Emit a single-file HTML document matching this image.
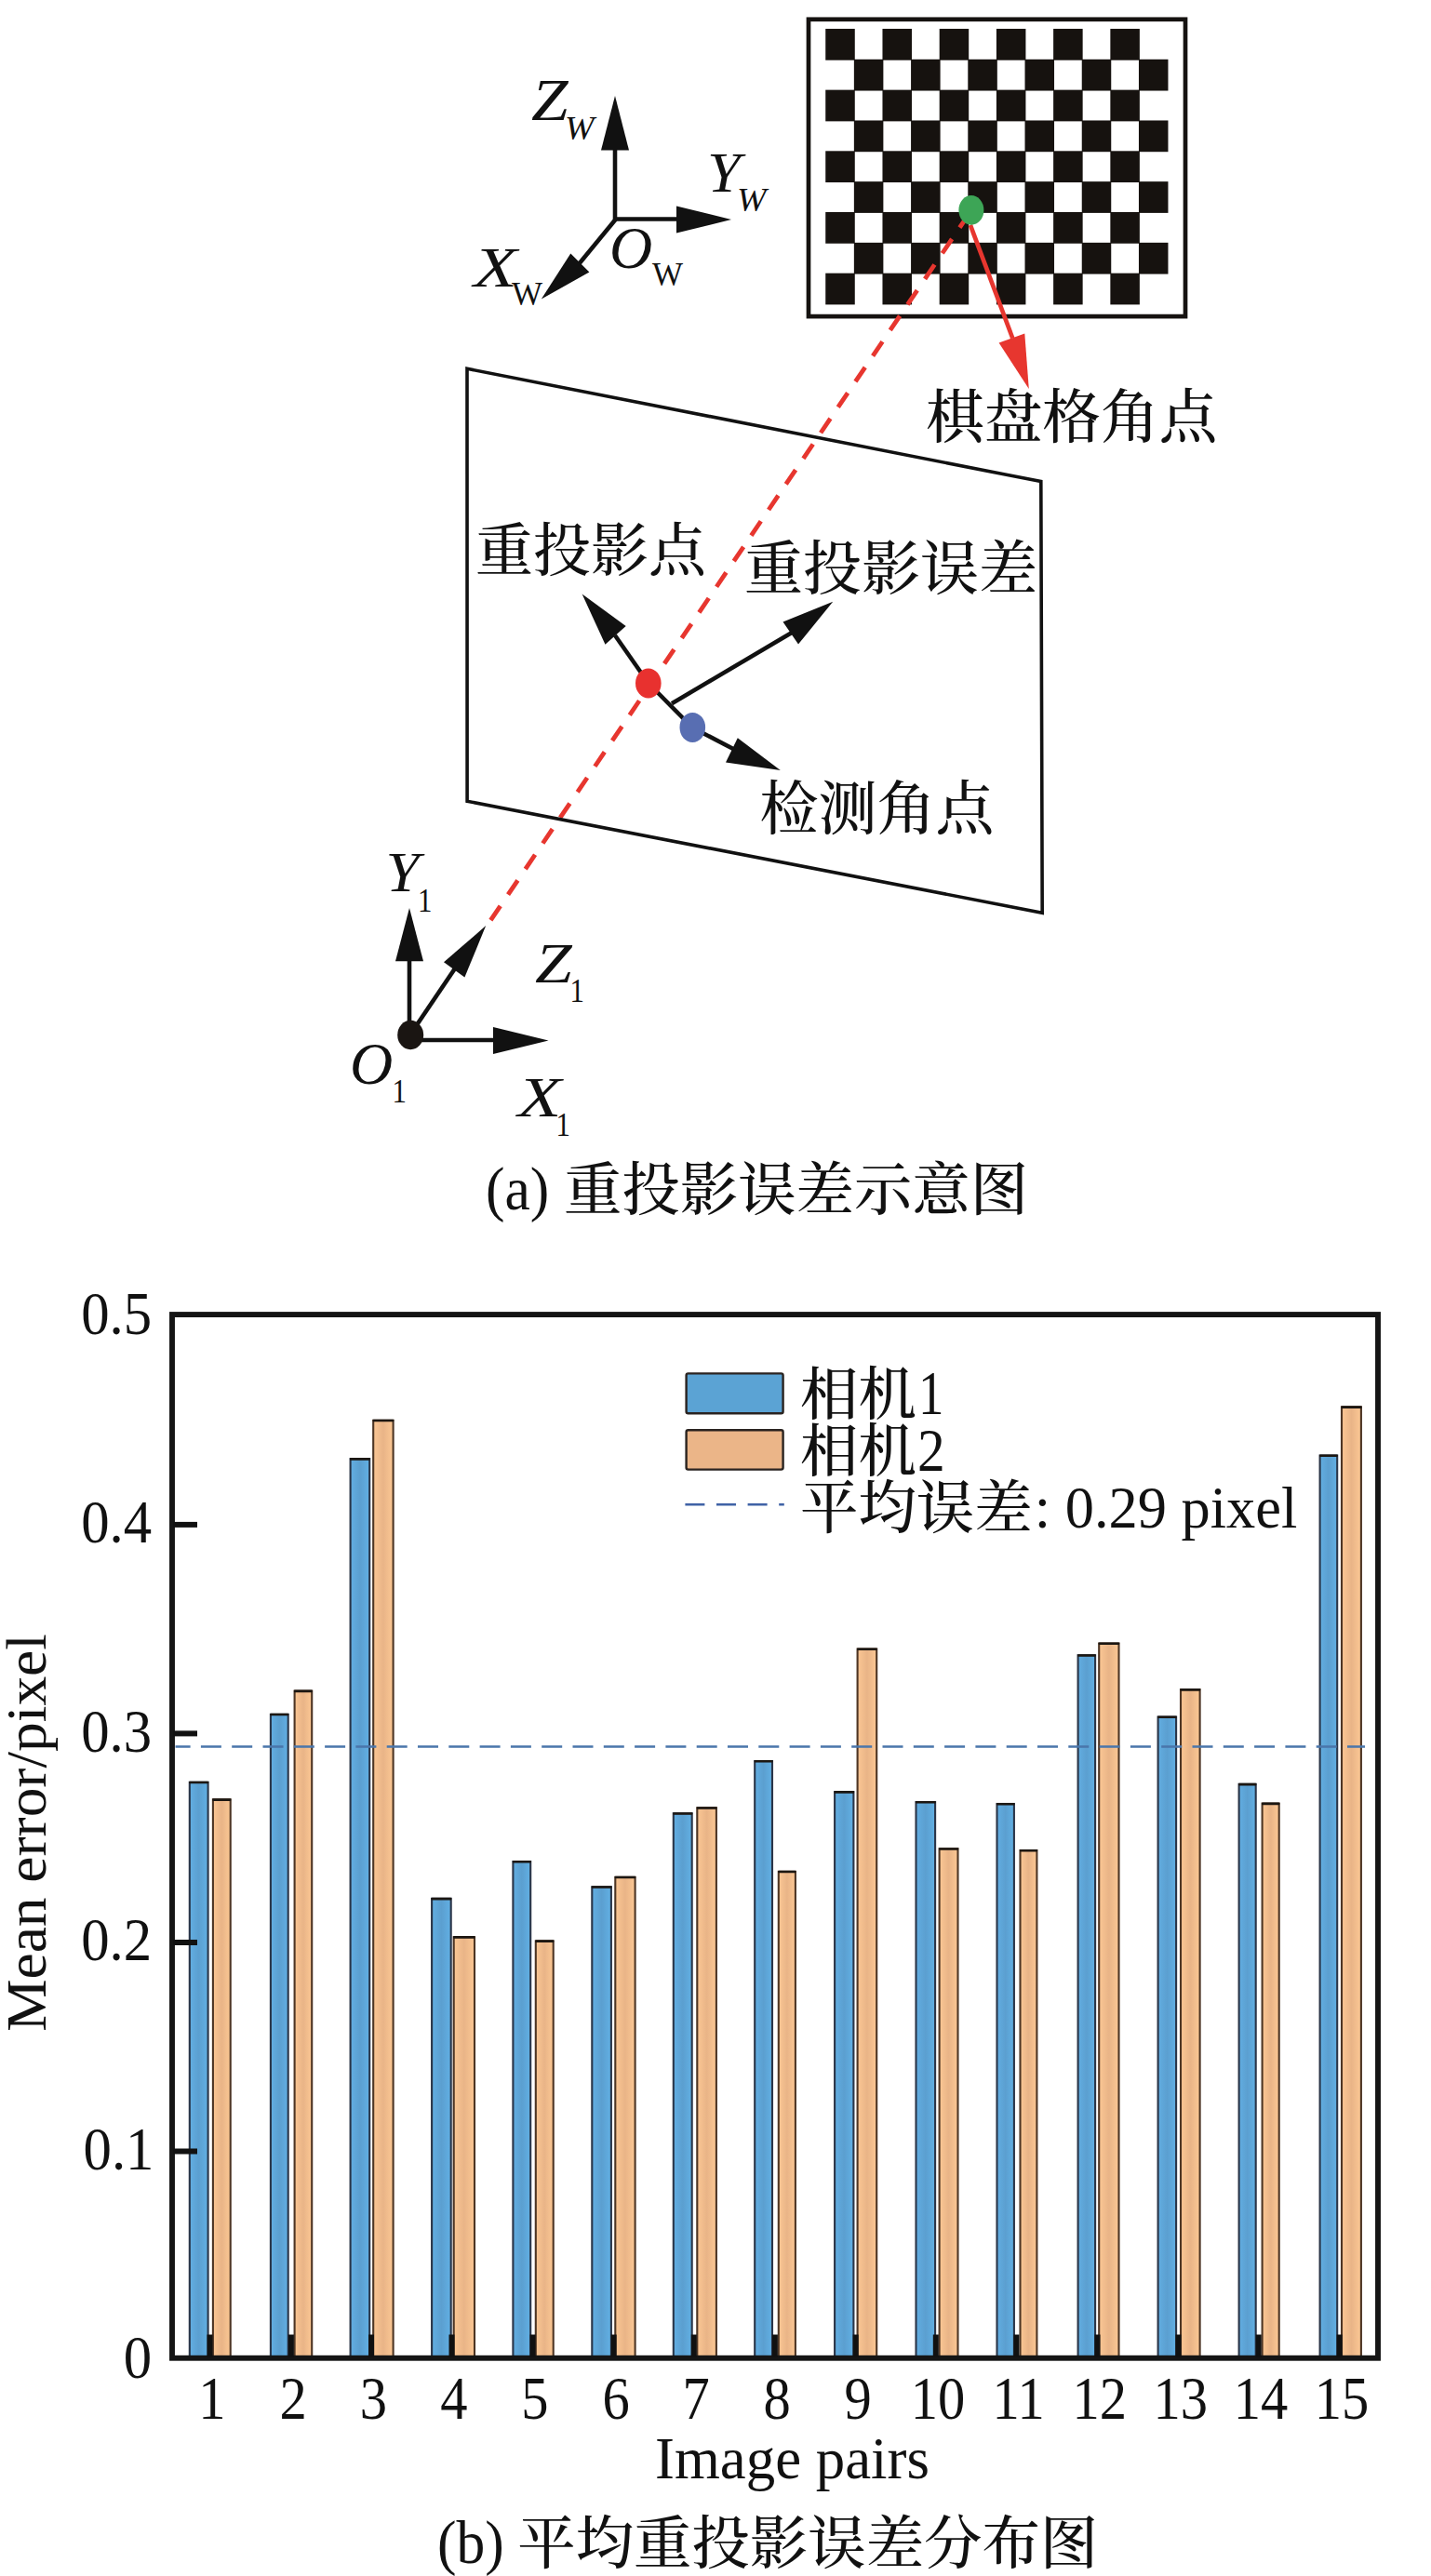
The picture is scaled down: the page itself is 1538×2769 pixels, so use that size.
<!DOCTYPE html>
<html lang="zh"><head><meta charset="utf-8"><title>重投影误差</title>
<style>html,body{margin:0;padding:0;background:#fff}svg{display:block}text{font-family:"Liberation Serif","Noto Serif CJK SC",serif;fill:#111}.cj{font-family:"Liberation Serif","Noto Serif CJK SC",serif;font-weight:500}.it{font-style:italic}</style></head><body>
<svg width="1538" height="2769" viewBox="0 0 1538 2769">
<defs>
<linearGradient id="gb" x1="0" x2="1" y1="0" y2="0"><stop offset="0" stop-color="#62aee2"/><stop offset="0.5" stop-color="#5b9fd0"/><stop offset="1" stop-color="#62b0e4"/></linearGradient>
<linearGradient id="go" x1="0" x2="1" y1="0" y2="0"><stop offset="0" stop-color="#fbc794"/><stop offset="0.5" stop-color="#e9b487"/><stop offset="1" stop-color="#fcc894"/></linearGradient>
</defs>
<rect width="1538" height="2769" fill="#fff"/>
<g id="board">
<rect x="869" y="20.8" width="405" height="319.3" fill="#fff" stroke="#151210" stroke-width="4.7"/>
<rect x="887.25" y="30.95" width="31.51" height="33.74" fill="#16120f"/>
<rect x="948.47" y="30.95" width="31.51" height="33.74" fill="#16120f"/>
<rect x="1009.69" y="30.95" width="31.51" height="33.74" fill="#16120f"/>
<rect x="1070.91" y="30.95" width="31.51" height="33.74" fill="#16120f"/>
<rect x="1132.13" y="30.95" width="31.51" height="33.74" fill="#16120f"/>
<rect x="1193.35" y="30.95" width="31.51" height="33.74" fill="#16120f"/>
<rect x="917.86" y="63.79" width="31.51" height="33.74" fill="#16120f"/>
<rect x="979.08" y="63.79" width="31.51" height="33.74" fill="#16120f"/>
<rect x="1040.30" y="63.79" width="31.51" height="33.74" fill="#16120f"/>
<rect x="1101.52" y="63.79" width="31.51" height="33.74" fill="#16120f"/>
<rect x="1162.74" y="63.79" width="31.51" height="33.74" fill="#16120f"/>
<rect x="1223.96" y="63.79" width="31.51" height="33.74" fill="#16120f"/>
<rect x="887.25" y="96.63" width="31.51" height="33.74" fill="#16120f"/>
<rect x="948.47" y="96.63" width="31.51" height="33.74" fill="#16120f"/>
<rect x="1009.69" y="96.63" width="31.51" height="33.74" fill="#16120f"/>
<rect x="1070.91" y="96.63" width="31.51" height="33.74" fill="#16120f"/>
<rect x="1132.13" y="96.63" width="31.51" height="33.74" fill="#16120f"/>
<rect x="1193.35" y="96.63" width="31.51" height="33.74" fill="#16120f"/>
<rect x="917.86" y="129.47" width="31.51" height="33.74" fill="#16120f"/>
<rect x="979.08" y="129.47" width="31.51" height="33.74" fill="#16120f"/>
<rect x="1040.30" y="129.47" width="31.51" height="33.74" fill="#16120f"/>
<rect x="1101.52" y="129.47" width="31.51" height="33.74" fill="#16120f"/>
<rect x="1162.74" y="129.47" width="31.51" height="33.74" fill="#16120f"/>
<rect x="1223.96" y="129.47" width="31.51" height="33.74" fill="#16120f"/>
<rect x="887.25" y="162.31" width="31.51" height="33.74" fill="#16120f"/>
<rect x="948.47" y="162.31" width="31.51" height="33.74" fill="#16120f"/>
<rect x="1009.69" y="162.31" width="31.51" height="33.74" fill="#16120f"/>
<rect x="1070.91" y="162.31" width="31.51" height="33.74" fill="#16120f"/>
<rect x="1132.13" y="162.31" width="31.51" height="33.74" fill="#16120f"/>
<rect x="1193.35" y="162.31" width="31.51" height="33.74" fill="#16120f"/>
<rect x="917.86" y="195.15" width="31.51" height="33.74" fill="#16120f"/>
<rect x="979.08" y="195.15" width="31.51" height="33.74" fill="#16120f"/>
<rect x="1040.30" y="195.15" width="31.51" height="33.74" fill="#16120f"/>
<rect x="1101.52" y="195.15" width="31.51" height="33.74" fill="#16120f"/>
<rect x="1162.74" y="195.15" width="31.51" height="33.74" fill="#16120f"/>
<rect x="1223.96" y="195.15" width="31.51" height="33.74" fill="#16120f"/>
<rect x="887.25" y="227.99" width="31.51" height="33.74" fill="#16120f"/>
<rect x="948.47" y="227.99" width="31.51" height="33.74" fill="#16120f"/>
<rect x="1009.69" y="227.99" width="31.51" height="33.74" fill="#16120f"/>
<rect x="1070.91" y="227.99" width="31.51" height="33.74" fill="#16120f"/>
<rect x="1132.13" y="227.99" width="31.51" height="33.74" fill="#16120f"/>
<rect x="1193.35" y="227.99" width="31.51" height="33.74" fill="#16120f"/>
<rect x="917.86" y="260.83" width="31.51" height="33.74" fill="#16120f"/>
<rect x="979.08" y="260.83" width="31.51" height="33.74" fill="#16120f"/>
<rect x="1040.30" y="260.83" width="31.51" height="33.74" fill="#16120f"/>
<rect x="1101.52" y="260.83" width="31.51" height="33.74" fill="#16120f"/>
<rect x="1162.74" y="260.83" width="31.51" height="33.74" fill="#16120f"/>
<rect x="1223.96" y="260.83" width="31.51" height="33.74" fill="#16120f"/>
<rect x="887.25" y="293.67" width="31.51" height="33.74" fill="#16120f"/>
<rect x="948.47" y="293.67" width="31.51" height="33.74" fill="#16120f"/>
<rect x="1009.69" y="293.67" width="31.51" height="33.74" fill="#16120f"/>
<rect x="1070.91" y="293.67" width="31.51" height="33.74" fill="#16120f"/>
<rect x="1132.13" y="293.67" width="31.51" height="33.74" fill="#16120f"/>
<rect x="1193.35" y="293.67" width="31.51" height="33.74" fill="#16120f"/>
</g>
<line x1="1040" y1="232" x2="526.5" y2="990.5" stroke="#e7362f" stroke-width="4.8" stroke-dasharray="18.5 14.8" stroke-dashoffset="3.2"/>
<line x1="1042.9" y1="241.9" x2="1088.3" y2="363.5" stroke="#e7362f" stroke-width="4.7"/>
<polygon points="1105.8,418 1073.6,368.4 1101.3,358.6" fill="#e7362f"/>
<ellipse cx="1043.9" cy="225.9" rx="13.5" ry="15.8" fill="#3da556"/>
<g stroke="#111" stroke-width="4.6" fill="none" stroke-linecap="butt">
<line x1="661" y1="237" x2="661" y2="158"/>
<line x1="659" y1="235.5" x2="730" y2="235.5"/>
<line x1="661.5" y1="236" x2="622" y2="284"/>
</g>
<polygon points="661,103 646,161.5 676,161.5" fill="#111"/>
<polygon points="786,236 727,221.4 727,250.6" fill="#111"/>
<polygon points="581.8,321.5 613.3,272.5 633.4,292.6" fill="#111"/>
<text class="it" transform="translate(571,129) scale(1.13,1)" font-size="63">Z</text>
<text class="it" transform="translate(607,150) scale(1.08,1)" font-size="35">W</text>
<text class="it" transform="translate(760,206) scale(1.04,1)" font-size="62">Y</text>
<text class="it" transform="translate(792,226.5) scale(1.08,1)" font-size="35">W</text>
<text class="it" transform="translate(655,287.5) scale(1.0,1)" font-size="64">O</text>
<text transform="translate(701,306.5) scale(1.0,1)" font-size="35">W</text>
<text class="it" transform="translate(509,307.7) scale(1.24,1)" font-size="62">X</text>
<text transform="translate(550,328) scale(1.0,1)" font-size="35">W</text>
<polygon points="502,396.3 1118.8,517.6 1120.2,981.2 502.1,861.2" fill="none" stroke="#111" stroke-width="3.6" stroke-linejoin="miter"/>
<g stroke="#111" stroke-width="4.5" fill="none">
<line x1="697" y1="734.5" x2="661" y2="683"/>
<line x1="697" y1="734.5" x2="744" y2="782"/>
<line x1="744" y1="782" x2="790" y2="806"/>
<line x1="722" y1="756.3" x2="851" y2="680"/>
</g>
<polygon points="625.6,638.6 650.5,692.8 672.7,673" fill="#111"/>
<polygon points="838.8,828 780,819.5 792.8,793.3" fill="#111"/>
<polygon points="895.2,646.8 841.5,668.6 858,692.4" fill="#111"/>
<ellipse cx="696.8" cy="734.4" rx="13.8" ry="16" fill="#e8312f"/>
<ellipse cx="744.3" cy="781.9" rx="13.8" ry="16" fill="#586eb2"/>
<text class="cj" x="995" y="469.8" font-size="62.7">棋盘格角点</text>
<text class="cj" x="511" y="613.5" font-size="62">重投影点</text>
<text class="cj" x="800" y="633" font-size="63">重投影误差</text>
<text class="cj" x="816.5" y="891" font-size="63">检测角点</text>
<g stroke="#111" stroke-width="4.6" fill="none">
<line x1="440" y1="1112" x2="440" y2="1030"/>
<line x1="441" y1="1118" x2="533" y2="1118"/>
<line x1="441" y1="1112" x2="489" y2="1041"/>
</g>
<polygon points="440,976 425,1033.3 455,1033.3" fill="#111"/>
<polygon points="589.5,1118.5 530,1104 530,1133" fill="#111"/>
<polygon points="522.2,995.1 477,1034.2 499.4,1050.6" fill="#111"/>
<ellipse cx="441.2" cy="1112.5" rx="14" ry="15.7" fill="#1a1512"/>
<text class="it" transform="translate(414.5,958.2) scale(1.05,1)" font-size="62">Y</text>
<text transform="translate(449,979.5) scale(0.88,1)" font-size="35">1</text>
<text class="it" transform="translate(575,1055.5) scale(1.15,1)" font-size="62">Z</text>
<text transform="translate(612.5,1076.5) scale(0.88,1)" font-size="35">1</text>
<text class="it" transform="translate(376,1165) scale(1.0,1)" font-size="64">O</text>
<text transform="translate(421.5,1185.3) scale(0.88,1)" font-size="35">1</text>
<text class="it" transform="translate(556.6,1199.7) scale(1.24,1)" font-size="62">X</text>
<text transform="translate(597.5,1220.5) scale(0.88,1)" font-size="35">1</text>
<text transform="translate(522,1299.6) scale(0.94,1)" font-size="65.5" text-anchor="start">(a)</text>
<text class="cj" x="606" y="1301.2" font-size="62.4">重投影误差示意图</text>
<g id="bars" stroke-width="2.1">
<rect x="203.8" y="1915.8" width="19.8" height="618.3" fill="url(#gb)" stroke="#2a3548"/>
<rect x="228.9" y="1934.3" width="18.8" height="599.7" fill="url(#go)" stroke="#4d3524"/>
<rect x="290.9" y="1842.8" width="18.8" height="691.3" fill="url(#gb)" stroke="#2a3548"/>
<rect x="316.6" y="1817.6" width="18.6" height="716.4" fill="url(#go)" stroke="#4d3524"/>
<rect x="376.6" y="1568.1" width="20.6" height="965.9" fill="url(#gb)" stroke="#2a3548"/>
<rect x="401.2" y="1526.8" width="21.4" height="1007.3" fill="url(#go)" stroke="#4d3524"/>
<rect x="464.1" y="2040.8" width="20.6" height="493.2" fill="url(#gb)" stroke="#2a3548"/>
<rect x="487.7" y="2082.2" width="22.3" height="451.9" fill="url(#go)" stroke="#4d3524"/>
<rect x="551.4" y="2001.0" width="18.8" height="533.0" fill="url(#gb)" stroke="#2a3548"/>
<rect x="575.8" y="2086.4" width="18.9" height="447.7" fill="url(#go)" stroke="#4d3524"/>
<rect x="636.3" y="2028.2" width="20.6" height="505.8" fill="url(#gb)" stroke="#2a3548"/>
<rect x="661.3" y="2017.8" width="21.3" height="516.3" fill="url(#go)" stroke="#4d3524"/>
<rect x="723.8" y="1949.2" width="19.9" height="584.8" fill="url(#gb)" stroke="#2a3548"/>
<rect x="749.3" y="1943.2" width="20.6" height="590.8" fill="url(#go)" stroke="#4d3524"/>
<rect x="811.2" y="1893.0" width="18.8" height="641.1" fill="url(#gb)" stroke="#2a3548"/>
<rect x="836.8" y="2011.8" width="18.1" height="522.3" fill="url(#go)" stroke="#4d3524"/>
<rect x="897.1" y="1926.1" width="20.3" height="607.9" fill="url(#gb)" stroke="#2a3548"/>
<rect x="921.6" y="1772.5" width="20.6" height="761.6" fill="url(#go)" stroke="#4d3524"/>
<rect x="984.5" y="1937.0" width="20.6" height="597.1" fill="url(#gb)" stroke="#2a3548"/>
<rect x="1009.6" y="1987.2" width="19.9" height="546.8" fill="url(#go)" stroke="#4d3524"/>
<rect x="1071.5" y="1939.0" width="18.4" height="595.0" fill="url(#gb)" stroke="#2a3548"/>
<rect x="1096.5" y="1989.0" width="17.9" height="545.0" fill="url(#go)" stroke="#4d3524"/>
<rect x="1158.6" y="1779.2" width="18.5" height="754.8" fill="url(#gb)" stroke="#2a3548"/>
<rect x="1181.2" y="1766.5" width="21.3" height="767.6" fill="url(#go)" stroke="#4d3524"/>
<rect x="1244.6" y="1845.5" width="19.5" height="688.6" fill="url(#gb)" stroke="#2a3548"/>
<rect x="1269.0" y="1816.1" width="20.6" height="717.9" fill="url(#go)" stroke="#4d3524"/>
<rect x="1331.6" y="1917.8" width="18.1" height="616.2" fill="url(#gb)" stroke="#2a3548"/>
<rect x="1356.6" y="1938.6" width="18.1" height="595.4" fill="url(#go)" stroke="#4d3524"/>
<rect x="1418.6" y="1564.5" width="18.6" height="969.5" fill="url(#gb)" stroke="#2a3548"/>
<rect x="1442.0" y="1512.3" width="20.9" height="1021.7" fill="url(#go)" stroke="#4d3524"/>
</g>
<g id="bartops" fill="#1c1712">
<rect x="203.1" y="1914.7" width="21.1" height="2.6" rx="1"/>
<rect x="228.2" y="1933.3" width="20.1" height="2.6" rx="1"/>
<rect x="290.2" y="1841.7" width="20.1" height="2.6" rx="1"/>
<rect x="315.9" y="1816.6" width="19.9" height="2.6" rx="1"/>
<rect x="375.9" y="1567.1" width="21.9" height="2.6" rx="1"/>
<rect x="400.6" y="1525.7" width="22.7" height="2.6" rx="1"/>
<rect x="463.4" y="2039.8" width="21.9" height="2.6" rx="1"/>
<rect x="487.0" y="2081.1" width="23.6" height="2.6" rx="1"/>
<rect x="550.8" y="2000.0" width="20.1" height="2.6" rx="1"/>
<rect x="575.2" y="2085.3" width="20.2" height="2.6" rx="1"/>
<rect x="635.7" y="2027.2" width="21.9" height="2.6" rx="1"/>
<rect x="660.7" y="2016.7" width="22.6" height="2.6" rx="1"/>
<rect x="723.2" y="1948.2" width="21.2" height="2.6" rx="1"/>
<rect x="748.7" y="1942.2" width="21.9" height="2.6" rx="1"/>
<rect x="810.6" y="1891.9" width="20.1" height="2.6" rx="1"/>
<rect x="836.1" y="2010.7" width="19.4" height="2.6" rx="1"/>
<rect x="896.5" y="1925.1" width="21.6" height="2.6" rx="1"/>
<rect x="921.0" y="1771.4" width="21.9" height="2.6" rx="1"/>
<rect x="983.9" y="1935.9" width="21.9" height="2.6" rx="1"/>
<rect x="1009.0" y="1986.2" width="21.2" height="2.6" rx="1"/>
<rect x="1070.9" y="1938.0" width="19.7" height="2.6" rx="1"/>
<rect x="1095.9" y="1988.0" width="19.2" height="2.6" rx="1"/>
<rect x="1158.0" y="1778.2" width="19.8" height="2.6" rx="1"/>
<rect x="1180.6" y="1765.4" width="22.6" height="2.6" rx="1"/>
<rect x="1244.0" y="1844.4" width="20.8" height="2.6" rx="1"/>
<rect x="1268.3" y="1815.1" width="21.9" height="2.6" rx="1"/>
<rect x="1331.0" y="1916.8" width="19.4" height="2.6" rx="1"/>
<rect x="1356.0" y="1937.6" width="19.4" height="2.6" rx="1"/>
<rect x="1418.0" y="1563.5" width="19.9" height="2.6" rx="1"/>
<rect x="1441.4" y="1511.3" width="22.2" height="2.6" rx="1"/>
</g>
<line x1="188.5" y1="1877.6" x2="1467" y2="1877.6" stroke="#4a76ab" stroke-width="2.5" stroke-dasharray="22 11.3" stroke-dashoffset="5.9"/>
<rect x="185" y="1413.05" width="1296" height="1121.7" fill="none" stroke="#151515" stroke-width="5.9"/>
<g stroke="#111" stroke-width="6">
<line x1="186" y1="2312.5" x2="212" y2="2312.5"/>
<line x1="186" y1="2088.0" x2="212" y2="2088.0"/>
<line x1="186" y1="1863.4" x2="212" y2="1863.4"/>
<line x1="186" y1="1638.9" x2="212" y2="1638.9"/>
<line x1="225.5" y1="2534" x2="225.5" y2="2509.5"/>
<line x1="312.9" y1="2534" x2="312.9" y2="2509.5"/>
<line x1="399.0" y1="2534" x2="399.0" y2="2509.5"/>
<line x1="485.5" y1="2534" x2="485.5" y2="2509.5"/>
<line x1="572.6" y1="2534" x2="572.6" y2="2509.5"/>
<line x1="659.7" y1="2534" x2="659.7" y2="2509.5"/>
<line x1="745.8" y1="2534" x2="745.8" y2="2509.5"/>
<line x1="832.9" y1="2534" x2="832.9" y2="2509.5"/>
<line x1="919.7" y1="2534" x2="919.7" y2="2509.5"/>
<line x1="1005.8" y1="2534" x2="1005.8" y2="2509.5"/>
<line x1="1092.4" y1="2534" x2="1092.4" y2="2509.5"/>
<line x1="1179.5" y1="2534" x2="1179.5" y2="2509.5"/>
<line x1="1266.5" y1="2534" x2="1266.5" y2="2509.5"/>
<line x1="1352.7" y1="2534" x2="1352.7" y2="2509.5"/>
<line x1="1439.7" y1="2534" x2="1439.7" y2="2509.5"/>
</g>
<text transform="translate(163.2,2556.3) scale(0.935,1)" font-size="65" text-anchor="end">0</text>
<text transform="translate(165.5,2331.7) scale(0.935,1)" font-size="65" text-anchor="end">0.1</text>
<text transform="translate(163.2,2107.2) scale(0.935,1)" font-size="65" text-anchor="end">0.2</text>
<text transform="translate(163.2,1882.6) scale(0.935,1)" font-size="65" text-anchor="end">0.3</text>
<text transform="translate(163.2,1658.1) scale(0.935,1)" font-size="65" text-anchor="end">0.4</text>
<text transform="translate(163.2,1433.5) scale(0.935,1)" font-size="65" text-anchor="end">0.5</text>
<text transform="translate(227.8,2600) scale(0.9,1)" font-size="65" text-anchor="middle">1</text>
<text transform="translate(315.2,2600) scale(0.9,1)" font-size="65" text-anchor="middle">2</text>
<text transform="translate(401.3,2600) scale(0.9,1)" font-size="65" text-anchor="middle">3</text>
<text transform="translate(487.8,2600) scale(0.9,1)" font-size="65" text-anchor="middle">4</text>
<text transform="translate(574.9,2600) scale(0.9,1)" font-size="65" text-anchor="middle">5</text>
<text transform="translate(662.0,2600) scale(0.9,1)" font-size="65" text-anchor="middle">6</text>
<text transform="translate(748.1,2600) scale(0.9,1)" font-size="65" text-anchor="middle">7</text>
<text transform="translate(835.2,2600) scale(0.9,1)" font-size="65" text-anchor="middle">8</text>
<text transform="translate(922.0,2600) scale(0.9,1)" font-size="65" text-anchor="middle">9</text>
<text transform="translate(1008.1,2600) scale(0.9,1)" font-size="65" text-anchor="middle">10</text>
<text transform="translate(1094.7,2600) scale(0.9,1)" font-size="65" text-anchor="middle">11</text>
<text transform="translate(1181.8,2600) scale(0.9,1)" font-size="65" text-anchor="middle">12</text>
<text transform="translate(1268.8,2600) scale(0.9,1)" font-size="65" text-anchor="middle">13</text>
<text transform="translate(1355.0,2600) scale(0.9,1)" font-size="65" text-anchor="middle">14</text>
<text transform="translate(1442.0,2600) scale(0.9,1)" font-size="65" text-anchor="middle">15</text>
<text transform="translate(704,2663.7) scale(0.99,1)" font-size="63.5" text-anchor="start">Image pairs</text>
<text transform="translate(48.7,1970) rotate(-90) scale(1.046,1)" text-anchor="middle" font-size="60.6">Mean error/pixel</text>
<rect x="737.6" y="1476.4" width="104" height="42.8" rx="2" fill="#5ba3d4" stroke="#2a2320" stroke-width="2.4"/>
<rect x="737.6" y="1537.2" width="104" height="42.4" rx="2" fill="#ebb588" stroke="#2a2320" stroke-width="2.4"/>
<line x1="736.4" y1="1617.3" x2="842.8" y2="1617.3" stroke="#3f62a6" stroke-width="2.5" stroke-dasharray="21 12.6"/>
<text class="cj" x="860" y="1521" font-size="62.4">相机</text>
<text transform="translate(987,1519.9) scale(0.82,1)" font-size="67" text-anchor="start">1</text>
<text class="cj" x="860" y="1582.4" font-size="62.4">相机</text>
<text transform="translate(986,1580.8) scale(0.9,1)" font-size="66" text-anchor="start">2</text>
<text class="cj" x="860" y="1643.2" font-size="62.4">平均误差</text>
<text transform="translate(1111.8,1641.7) scale(1.0,1)" font-size="62.4" text-anchor="start">: 0.29 pixel</text>
<text transform="translate(470,2755) scale(0.94,1)" font-size="65.5" text-anchor="start">(b)</text>
<text class="cj" x="556.3" y="2756.3" font-size="62.4">平均重投影误差分布图</text>
</svg></body></html>
